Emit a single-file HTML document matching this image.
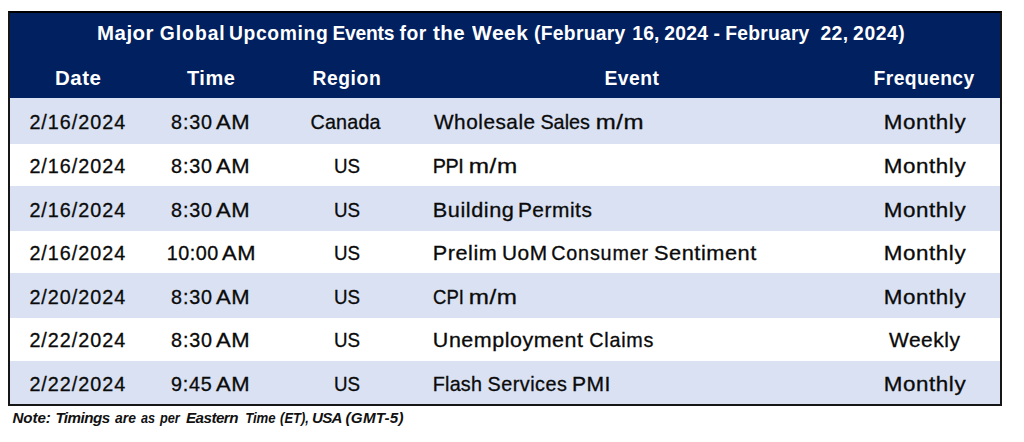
<!DOCTYPE html>
<html lang="en"><head><meta charset="utf-8"><title>Major Global Upcoming Events</title>
<style>
html,body{margin:0;padding:0;background:#fff;}
body{width:1024px;height:442px;position:relative;overflow:hidden;font-family:"Liberation Sans",sans-serif;}
#tbl{position:absolute;left:8px;top:11px;width:994px;height:395px;box-sizing:border-box;background:#fff;}
#frame{position:absolute;left:8px;top:11px;width:994px;height:395px;box-sizing:border-box;border:2px solid #161616;border-top-color:#000;}
#hd{position:absolute;left:0;top:0;width:994px;height:87px;background:#002060;}
.r{position:absolute;left:0;width:994px;background:#d9e1f2;}
span{position:absolute;white-space:pre;}
.t,.h{font-weight:bold;color:#fff;font-size:19.3px;line-height:21px;}
.d{color:#0a0a0a;font-size:19.75px;line-height:22px;-webkit-text-stroke:0.3px #0a0a0a;}
.n{font-weight:bold;font-style:italic;color:#111;font-size:15.2px;line-height:17px;}
</style></head><body>
<div id="tbl"><div id="hd"></div>
<div class="r" style="top:87.0px;height:45.5px"></div>
<div class="r" style="top:174.7px;height:45.1px"></div>
<div class="r" style="top:262.0px;height:45.2px"></div>
<div class="r" style="top:349.7px;height:43.5px"></div>
</div>
<div id="frame"></div>
<div class="g" id="title">
<span class="t" style="left:97.00px;top:23px;letter-spacing:0.5px;transform:scaleX(1.0603);transform-origin:1.20px 50%">Major</span> 
<span class="t" style="left:159.80px;top:23px;letter-spacing:0.983px">Global</span> 
<span class="t" style="left:228.90px;top:23px;letter-spacing:0.648px">Upcoming</span> 
<span class="t" style="left:332.40px;top:23px;letter-spacing:-0.231px">Events</span> 
<span class="t" style="left:399.50px;top:23px;letter-spacing:0.542px">for</span> 
<span class="t" style="left:432.50px;top:23px;letter-spacing:0.5px;transform:scaleX(1.0613);transform-origin:0.20px 50%">the</span> 
<span class="t" style="left:471.80px;top:23px;letter-spacing:0.5px;transform:scaleX(1.0845);transform-origin:-0.00px 50%">Week</span> 
<span class="t" style="left:534.10px;top:23px;letter-spacing:0.277px">(February</span> 
<span class="t" style="left:632.30px;top:23px;letter-spacing:0.116px">16,</span> 
<span class="t" style="left:664.30px;top:23px;letter-spacing:0.300px">2024</span> 
<span class="t" style="left:713.40px;top:23px;letter-spacing:0.000px">-</span> 
<span class="t" style="left:725.30px;top:23px;letter-spacing:0.220px">February</span> 
<span class="t" style="left:820.50px;top:23px;letter-spacing:0.366px">22,</span> 
<span class="t" style="left:853.10px;top:23px;letter-spacing:0.591px">2024)</span>
</div>
<div class="g" id="head">
<span class="h" style="left:54.50px;top:68px;letter-spacing:0.5px;transform:scaleX(1.0627);transform-origin:1.20px 50%">Date</span> 
<span class="h" style="left:186.80px;top:68px;letter-spacing:0.5px;transform:scaleX(1.0361);transform-origin:0.20px 50%">Time</span> 
<span class="h" style="left:312.40px;top:68px;letter-spacing:0.598px">Region</span> 
<span class="h" style="left:604.50px;top:68px;letter-spacing:0.468px">Event</span> 
<span class="h" style="left:873.60px;top:68px;letter-spacing:0.379px">Frequency</span>
</div>
<div class="g" id="row1">
<span class="d" style="left:29.40px;top:111px;letter-spacing:0.990px">2/16/2024</span> 
<span class="d" style="left:171.10px;top:111px;letter-spacing:0.815px">8:30</span> 
<span class="d" style="left:215.50px;top:111px;letter-spacing:0.5px;transform:scaleX(1.1164);transform-origin:-0.00px 50%">AM</span> 
<span class="d" style="left:310.50px;top:111px;letter-spacing:0.180px">Canada</span> 
<span class="d" style="left:434.30px;top:111px;letter-spacing:0.5px;transform:scaleX(1.0511);transform-origin:-0.00px 50%">Wholesale</span> 
<span class="d" style="left:540.40px;top:111px;letter-spacing:0.043px">Sales</span> 
<span class="d" style="left:595.70px;top:111px;letter-spacing:0.5px;transform:scaleX(1.2161);transform-origin:1.30px 50%">m/m</span> 
<span class="d" style="left:883.60px;top:111px;letter-spacing:0.5px;transform:scaleX(1.1335);transform-origin:1.60px 50%">Monthly</span>
</div>
<div class="g" id="row2">
<span class="d" style="left:29.40px;top:155px;letter-spacing:0.990px">2/16/2024</span> 
<span class="d" style="left:171.10px;top:155px;letter-spacing:0.815px">8:30</span> 
<span class="d" style="left:215.50px;top:155px;letter-spacing:0.5px;transform:scaleX(1.1164);transform-origin:-0.00px 50%">AM</span> 
<span class="d" style="left:334.00px;top:155px;transform:scaleX(0.9496);transform-origin:1.50px 50%">US</span> 
<span class="d" style="left:432.70px;top:155px;letter-spacing:-0.423px">PPI</span> 
<span class="d" style="left:468.90px;top:155px;letter-spacing:0.5px;transform:scaleX(1.2297);transform-origin:1.30px 50%">m/m</span> 
<span class="d" style="left:883.60px;top:155px;letter-spacing:0.5px;transform:scaleX(1.1335);transform-origin:1.60px 50%">Monthly</span>
</div>
<div class="g" id="row3">
<span class="d" style="left:29.40px;top:199px;letter-spacing:0.990px">2/16/2024</span> 
<span class="d" style="left:171.10px;top:199px;letter-spacing:0.815px">8:30</span> 
<span class="d" style="left:215.50px;top:199px;letter-spacing:0.5px;transform:scaleX(1.1164);transform-origin:-0.00px 50%">AM</span> 
<span class="d" style="left:334.00px;top:199px;transform:scaleX(0.9496);transform-origin:1.50px 50%">US</span> 
<span class="d" style="left:432.70px;top:199px;letter-spacing:0.5px;transform:scaleX(1.0988);transform-origin:1.60px 50%">Building</span> 
<span class="d" style="left:518.40px;top:199px;letter-spacing:0.5px;transform:scaleX(1.0567);transform-origin:1.60px 50%">Permits</span> 
<span class="d" style="left:883.60px;top:199px;letter-spacing:0.5px;transform:scaleX(1.1335);transform-origin:1.60px 50%">Monthly</span>
</div>
<div class="g" id="row4">
<span class="d" style="left:29.40px;top:242px;letter-spacing:0.990px">2/16/2024</span> 
<span class="d" style="left:166.80px;top:242px;letter-spacing:0.515px">10:00</span> 
<span class="d" style="left:222.00px;top:242px;letter-spacing:0.5px;transform:scaleX(1.1094);transform-origin:-0.00px 50%">AM</span> 
<span class="d" style="left:334.00px;top:242px;transform:scaleX(0.9496);transform-origin:1.50px 50%">US</span> 
<span class="d" style="left:432.70px;top:242px;letter-spacing:0.5px;transform:scaleX(1.0933);transform-origin:1.60px 50%">Prelim</span> 
<span class="d" style="left:501.50px;top:242px;letter-spacing:0.5px;transform:scaleX(1.0568);transform-origin:1.50px 50%">UoM</span> 
<span class="d" style="left:551.20px;top:242px;letter-spacing:0.825px">Consumer</span> 
<span class="d" style="left:654.30px;top:242px;letter-spacing:0.5px;transform:scaleX(1.1017);transform-origin:0.80px 50%">Sentiment</span> 
<span class="d" style="left:883.60px;top:242px;letter-spacing:0.5px;transform:scaleX(1.1335);transform-origin:1.60px 50%">Monthly</span>
</div>
<div class="g" id="row5">
<span class="d" style="left:29.40px;top:286px;letter-spacing:0.990px">2/20/2024</span> 
<span class="d" style="left:171.10px;top:286px;letter-spacing:0.815px">8:30</span> 
<span class="d" style="left:215.50px;top:286px;letter-spacing:0.5px;transform:scaleX(1.1164);transform-origin:-0.00px 50%">AM</span> 
<span class="d" style="left:334.00px;top:286px;transform:scaleX(0.9496);transform-origin:1.50px 50%">US</span> 
<span class="d" style="left:432.70px;top:286px;transform:scaleX(0.9358);transform-origin:1.00px 50%">CPI</span> 
<span class="d" style="left:468.90px;top:286px;letter-spacing:0.5px;transform:scaleX(1.2242);transform-origin:1.30px 50%">m/m</span> 
<span class="d" style="left:883.60px;top:286px;letter-spacing:0.5px;transform:scaleX(1.1335);transform-origin:1.60px 50%">Monthly</span>
</div>
<div class="g" id="row6">
<span class="d" style="left:29.40px;top:329px;letter-spacing:0.990px">2/22/2024</span> 
<span class="d" style="left:171.10px;top:329px;letter-spacing:0.815px">8:30</span> 
<span class="d" style="left:215.50px;top:329px;letter-spacing:0.5px;transform:scaleX(1.1164);transform-origin:-0.00px 50%">AM</span> 
<span class="d" style="left:334.00px;top:329px;transform:scaleX(0.9496);transform-origin:1.50px 50%">US</span> 
<span class="d" style="left:432.80px;top:329px;letter-spacing:0.5px;transform:scaleX(1.0853);transform-origin:1.50px 50%">Unemployment</span> 
<span class="d" style="left:589.30px;top:329px;letter-spacing:0.745px">Claims</span> 
<span class="d" style="left:888.80px;top:329px;letter-spacing:0.5px;transform:scaleX(1.0610);transform-origin:-0.00px 50%">Weekly</span>
</div>
<div class="g" id="row7">
<span class="d" style="left:29.40px;top:373px;letter-spacing:0.990px">2/22/2024</span> 
<span class="d" style="left:171.00px;top:373px;letter-spacing:0.748px">9:45</span> 
<span class="d" style="left:215.50px;top:373px;letter-spacing:0.5px;transform:scaleX(1.1164);transform-origin:-0.00px 50%">AM</span> 
<span class="d" style="left:334.00px;top:373px;transform:scaleX(0.9496);transform-origin:1.50px 50%">US</span> 
<span class="d" style="left:432.70px;top:373px;letter-spacing:0.247px">Flash</span> 
<span class="d" style="left:487.60px;top:373px;letter-spacing:0.492px">Services</span> 
<span class="d" style="left:572.10px;top:373px;letter-spacing:0.5px;transform:scaleX(1.0665);transform-origin:1.60px 50%">PMI</span> 
<span class="d" style="left:883.60px;top:373px;letter-spacing:0.5px;transform:scaleX(1.1335);transform-origin:1.60px 50%">Monthly</span>
</div>
<div class="g" id="note">
<span class="n" style="left:12.50px;top:409px;letter-spacing:-0.094px">Note:</span> 
<span class="n" style="left:55.40px;top:409px;letter-spacing:-0.540px">Timings</span> 
<span class="n" style="left:114.80px;top:409px;transform:scaleX(0.9168);transform-origin:-0.00px 50%">are</span> 
<span class="n" style="left:141.10px;top:409px;transform:scaleX(0.8326);transform-origin:-0.00px 50%">as</span> 
<span class="n" style="left:160.00px;top:409px;transform:scaleX(0.8414);transform-origin:-0.40px 50%">per</span> 
<span class="n" style="left:186.00px;top:409px;letter-spacing:-0.546px">Eastern</span> 
<span class="n" style="left:244.50px;top:409px;transform:scaleX(0.8686);transform-origin:1.00px 50%">Time</span> 
<span class="n" style="left:279.90px;top:409px;transform:scaleX(0.8519);transform-origin:0.50px 50%">(ET),</span> 
<span class="n" style="left:312.00px;top:409px;letter-spacing:-0.758px">USA</span> 
<span class="n" style="left:345.50px;top:409px;letter-spacing:0.265px">(GMT-5)</span>
</div>
</body></html>
